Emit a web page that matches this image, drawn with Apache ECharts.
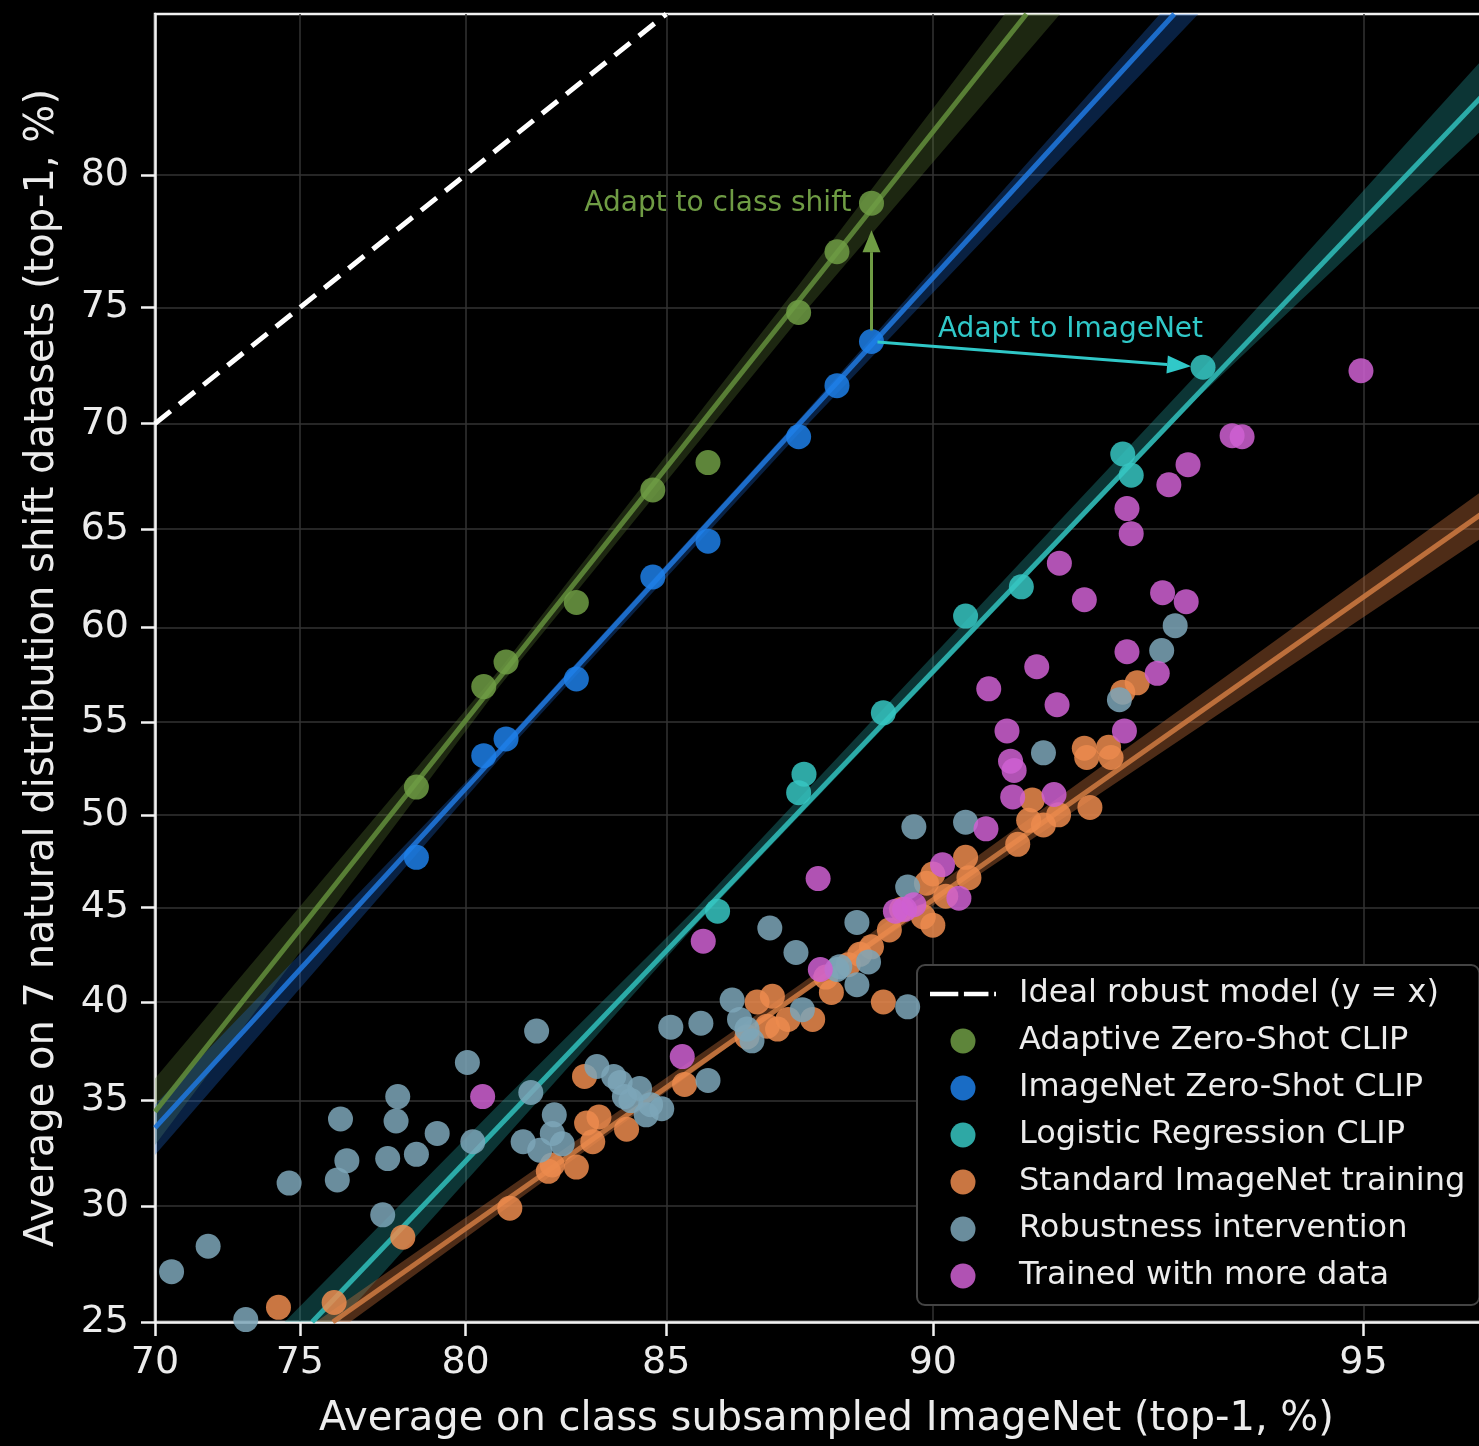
<!DOCTYPE html>
<html>
<head>
<meta charset="utf-8">
<script src="https://cdn.jsdelivr.net/npm/echarts@6/dist/echarts.min.js"></script>
<style>
  html, body { margin: 0; padding: 0; background: #000; overflow: hidden; }
  #chart { width: 1498px; height: 1446px; }
</style>
</head>
<body>
<div id="chart"></div>
<script>
// ---- tick labels (percent) ----
const xTicks = [70, 75, 80, 85, 90, 95];
const yTicks = [25, 30, 35, 40, 45, 50, 55, 60, 65, 70, 75, 80];

// ---- CLIP models (x = class subsampled ImageNet, y = 7 shift datasets) ----
const clipX      = [78.6, 80.5, 81.1, 82.9, 84.7, 85.9, 87.7, 88.4, 89.0];
const adaptiveY  = [51.5, 56.9, 58.2, 61.3, 66.9, 68.2, 74.8, 77.2, 79.0];
const zeroShotY  = [47.7, 53.2, 54.1, 57.3, 62.6, 64.4, 69.4, 71.7, 73.6];
const logRegX    = [86.1, 87.7, 87.8, 89.2, 90.5, 91.3, 92.6, 92.7, 93.5];
const logRegY    = [44.8, 51.2, 52.2, 55.5, 60.6, 62.1, 68.6, 67.6, 72.5];

// ---- standard ImageNet training ----
const standardPts = [
  [74.3,25.6],[76.1,25.8],[78.2,28.6],[81.2,29.9],[82.2,31.6],[82.3,31.9],[82.9,31.8],
  [83.1,36.2],[83.15,33.9],[83.45,34.2],[83.3,33.0],[84.1,33.6],[85.4,35.8],
  [86.7,38.2],[86.9,40.0],[87.1,38.75],[87.2,40.3],[87.3,38.6],[87.5,39.1],[87.96,39.1],
  [88.2,41.3],[88.3,40.5],[88.6,41.95],[88.8,42.5],[89.0,42.9],[89.2,40.0],[89.3,43.8],
  [89.5,44.9],[89.85,44.5],[89.9,46.3],[90.0,46.8],[90.0,44.05],[90.2,45.6],[90.5,47.7],
  [90.55,46.6],[91.25,48.4],[91.4,49.7],[91.45,50.8],[91.6,49.45],[91.8,50.0],[92.2,50.4],
  [92.13,53.6],[92.16,53.1],[92.43,53.65],[92.46,53.1],[92.6,56.6],[92.77,57.1]
];

// ---- robustness interventions ----
const robustPts = [
  [70.6,27.1],[71.9,28.2],[73.2,25.1],[74.65,31.05],[76.2,31.2],[76.3,34.1],[76.5,32.1],
  [77.6,29.6],[77.75,32.2],[78.05,35.2],[78.0,34.0],[78.6,32.4],[79.2,33.4],[80.05,36.9],
  [80.2,33.0],[81.75,35.4],[81.9,38.5],[81.55,33.0],[82.35,34.3],[81.98,32.6],[82.3,33.4],
  [82.55,32.9],[83.4,36.7],[83.8,36.2],[83.95,35.9],[84.05,35.2],[84.2,35.0],[84.4,35.6],
  [84.55,34.3],[84.65,34.8],[84.9,34.6],[85.1,38.7],[85.75,38.9],[85.9,36.0],[86.4,40.1],
  [86.55,39.1],[86.7,38.6],[86.8,38.0],[87.15,43.9],[87.65,42.6],[87.77,39.6],[88.4,41.7],
  [88.45,41.85],[88.75,44.2],[88.75,40.9],[88.95,42.1],[89.6,46.1],[89.6,39.75],[89.7,49.35],
  [90.5,49.6],[91.6,53.35],[92.56,56.2],[93.05,58.8],[93.2,60.1]
];

// ---- trained with more data ----
const moreDataPts = [
  [94.98,72.35],[93.8,69.45],[93.9,69.4],[93.34,68.1],[93.13,67.15],[92.65,66.0],[92.7,64.77],
  [91.81,63.3],[92.13,61.44],[93.06,61.8],[93.32,61.34],[92.65,58.74],[91.51,57.95],[90.84,56.78],
  [91.78,55.93],[91.1,54.53],[92.62,54.53],[93.0,57.6],[91.15,52.9],[91.2,52.4],[91.18,50.97],
  [91.74,51.1],[90.8,49.24],[90.15,47.3],[90.4,45.5],[89.55,44.9],[89.4,44.8],[89.7,45.15],
  [88.06,46.55],[85.8,43.2],[88.1,41.7],[85.35,37.2],[80.47,35.2]
];

// ---- linear fits (in logit space) : end points ----
const adaptiveFit = [[70, 34.45], [91.37, 85]];
const zeroShotFit = [[70, 33.67], [93.19, 85]];
const logRegFit   = [[75.4, 25], [96, 83.1]];
const standardFit = [[76.06, 25], [96, 66.3]];
const idealLine   = [[70, 70], [85, 85]];

// ---- confidence bands of the fits (outline vertices) ----
const adaptiveBand = [[70,36.1],[80.93,57.8],[87.72,75.96],[91.07,85],[91.82,85],[87.72,74.59],[80.93,56.93],[70,32.85]];
const zeroShotBand = [[70,34.8],[80.93,53.68],[87.72,70.22],[93.03,85],[93.45,85],[87.72,69.58],[80.93,53.03],[70,32.37]];
const logRegBand   = [[74.5,25],[80.93,34.84],[85.72,45.15],[93.45,72.26],[96,84.2],[96,82.0],[93.45,71.2],[85.72,44.29],[80.93,32.9],[76.25,25]];
const standardBand = [[75.52,25],[87.72,40.9],[96,67.4],[96,65.1],[87.72,40.38],[76.6,25]];

// ---- logit scale helpers ----
function logit(p) { const q = p / 100; return Math.log(q / (1 - q)); }
function expit(v) { return 100 / (1 + Math.exp(-v)); }
const L = pt => [logit(pt[0]), logit(pt[1])];
const zip = (xs, ys) => xs.map((x, i) => L([x, ys[i]]));

const FONT = 'DejaVu Sans';
const TXT = '#ececec';
const AXIS = '#f2f2f2';
const C = {
  adaptive: '#6f9c44',
  zeroShot: '#1d7fe8',
  logReg:   '#36c6c2',
  standard: '#ec8b4e',
  robust:   '#7ca6b8',
  more:     '#cf60d2'
};

function bandSeries(poly, color) {
  return {
    type: 'custom', silent: true, z: 1, clip: true,
    data: [0],
    renderItem: (params, api) => ({
      type: 'polygon',
      shape: { points: poly.map(p => api.coord(L(p))) },
      style: { fill: color }
    })
  };
}

function fitSeries(line, color) {
  return {
    type: 'line', silent: true, z: 2, symbol: 'none',
    data: line.map(L),
    lineStyle: { color: color, width: 5, opacity: 0.9 }
  };
}

function scatterSeries(name, pts, color, z) {
  return {
    name: name, type: 'scatter', z: z, symbol: 'circle', symbolSize: 25,
    data: pts,
    itemStyle: { color: color, opacity: 0.85 }
  };
}

function arrowGroup(api, from, to, color, shrinkA, shrinkB, headLen, headW) {
  const p1 = api.coord(L(from)), p2 = api.coord(L(to));
  const dx = p2[0] - p1[0], dy = p2[1] - p1[1];
  const len = Math.hypot(dx, dy), ux = dx / len, uy = dy / len;
  const a = [p1[0] + ux * shrinkA, p1[1] + uy * shrinkA];
  const b = [p2[0] - ux * shrinkB, p2[1] - uy * shrinkB];
  const base = [b[0] - ux * headLen, b[1] - uy * headLen];
  const nx = -uy, ny = ux;
  return [
    { type: 'line', shape: { x1: a[0], y1: a[1], x2: base[0], y2: base[1] },
      style: { stroke: color, lineWidth: 3 } },
    { type: 'polygon', shape: { points: [b,
        [base[0] + nx * headW / 2, base[1] + ny * headW / 2],
        [base[0] - nx * headW / 2, base[1] - ny * headW / 2]] },
      style: { fill: color } }
  ];
}

const zsTop = [clipX[8], zeroShotY[8]];
const adTop = [clipX[8], adaptiveY[8]];
const lrTop = [logRegX[8], logRegY[8]];

const dashedIcon = 'path://M0,0H30V5H0Z M36,0H62V5H36Z M68,0H70V5H68Z';

const chart = echarts.init(document.getElementById('chart'));
chart.setOption({
  backgroundColor: '#000',
  animation: false,
  textStyle: { fontFamily: FONT },
  grid: {
    left: 155, right: 0, top: 14, bottom: 124,
    show: true, borderColor: AXIS, borderWidth: 2.5
  },
  xAxis: {
    type: 'value', min: logit(70), max: logit(96),
    name: 'Average on class subsampled ImageNet (top-1, %)',
    nameLocation: 'middle', nameGap: 78,
    nameTextStyle: { color: TXT, fontSize: 40, fontFamily: FONT },
    axisLine: { show: true, onZero: false, lineStyle: { color: AXIS, width: 2.5 } },
    axisTick: { show: true, length: 14, customValues: xTicks.map(logit),
                lineStyle: { color: AXIS, width: 2.5 } },
    axisLabel: { customValues: xTicks.map(logit), color: TXT, fontSize: 38, fontFamily: FONT,
                 margin: 22, formatter: v => String(Math.round(expit(v))) },
    splitLine: { show: true, lineStyle: { color: '#333', width: 1.5 } }
  },
  yAxis: {
    type: 'value', min: logit(25), max: logit(85),
    name: 'Average on 7 natural distribution shift datasets (top-1, %)',
    nameLocation: 'middle', nameGap: 92,
    nameTextStyle: { color: TXT, fontSize: 40, fontFamily: FONT },
    axisLine: { show: true, onZero: false, lineStyle: { color: AXIS, width: 2.5 } },
    axisTick: { show: true, length: 14, customValues: yTicks.map(logit),
                lineStyle: { color: AXIS, width: 2.5 } },
    axisLabel: { customValues: yTicks.map(logit), color: TXT, fontSize: 38, fontFamily: FONT,
                 margin: 26, formatter: v => String(Math.round(expit(v))) },
    splitLine: { show: true, lineStyle: { color: '#333', width: 1.5 } }
  },
  legend: {
    orient: 'vertical', left: 917, top: 965,
    padding: [13, 14, 13, 13],
    itemWidth: 66, itemHeight: 25, itemGap: 15,
    backgroundColor: '#000', borderColor: '#444', borderWidth: 2, borderRadius: 8,
    textStyle: { color: TXT, fontSize: 32, fontFamily: FONT, lineHeight: 32, padding: [0, 0, 0, 18] },
    data: [
      { name: 'Ideal robust model (y = x)', icon: dashedIcon, itemStyle: { color: '#ffffff' } },
      { name: 'Adaptive Zero-Shot CLIP', icon: 'circle' },
      { name: 'ImageNet Zero-Shot CLIP', icon: 'circle' },
      { name: 'Logistic Regression CLIP', icon: 'circle' },
      { name: 'Standard ImageNet training', icon: 'circle' },
      { name: 'Robustness intervention', icon: 'circle' },
      { name: 'Trained with more data', icon: 'circle' }
    ]
  },
  series: [
    bandSeries(adaptiveBand, 'rgba(95,130,55,0.30)'),
    bandSeries(zeroShotBand, 'rgba(30,110,220,0.30)'),
    bandSeries(logRegBand,   'rgba(40,175,175,0.30)'),
    bandSeries(standardBand, 'rgba(205,115,60,0.38)'),
    fitSeries(adaptiveFit, '#5f8a3a'),
    fitSeries(zeroShotFit, '#1f74d8'),
    fitSeries(logRegFit,   '#2fb8b5'),
    fitSeries(standardFit, '#c9773f'),
    {
      name: 'Ideal robust model (y = x)', type: 'line', symbol: 'none', z: 3,
      data: idealLine.map(L),
      lineStyle: { color: '#ffffff', width: 5, type: [20, 11] },
      itemStyle: { color: '#ffffff' }
    },
    scatterSeries('Standard ImageNet training', standardPts.map(L), C.standard, 4),
    scatterSeries('Robustness intervention', robustPts.map(L), C.robust, 5),
    scatterSeries('Trained with more data', moreDataPts.map(L), C.more, 6),
    scatterSeries('Logistic Regression CLIP', zip(logRegX, logRegY), C.logReg, 7),
    scatterSeries('ImageNet Zero-Shot CLIP', zip(clipX, zeroShotY), C.zeroShot, 7),
    scatterSeries('Adaptive Zero-Shot CLIP', zip(clipX, adaptiveY), C.adaptive, 7),
    {
      type: 'custom', silent: true, z: 8, clip: false,
      data: [0],
      renderItem: (params, api) => {
        const pAd = api.coord(L(adTop));
        const pLr = api.coord(L(lrTop));
        return {
          type: 'group',
          children: [
            ...arrowGroup(api, zsTop, adTop, '#6f9c44', 11, 27, 22, 18),
            ...arrowGroup(api, zsTop, lrTop, '#30c8c8', 6, 12, 24, 18),
            { type: 'text', x: pAd[0] - 20, y: pAd[1] + 1,
              style: { text: 'Adapt to class shift', fill: '#6f9c44', fontSize: 28, fontFamily: FONT,
                       align: 'right', verticalAlign: 'middle' } },
            { type: 'text', x: pLr[0], y: pLr[1] - 38,
              style: { text: 'Adapt to ImageNet', fill: '#30c8c8', fontSize: 28, fontFamily: FONT,
                       align: 'right', verticalAlign: 'middle' } }
          ]
        };
      }
    }
  ]
});
</script>
</body>
</html>
